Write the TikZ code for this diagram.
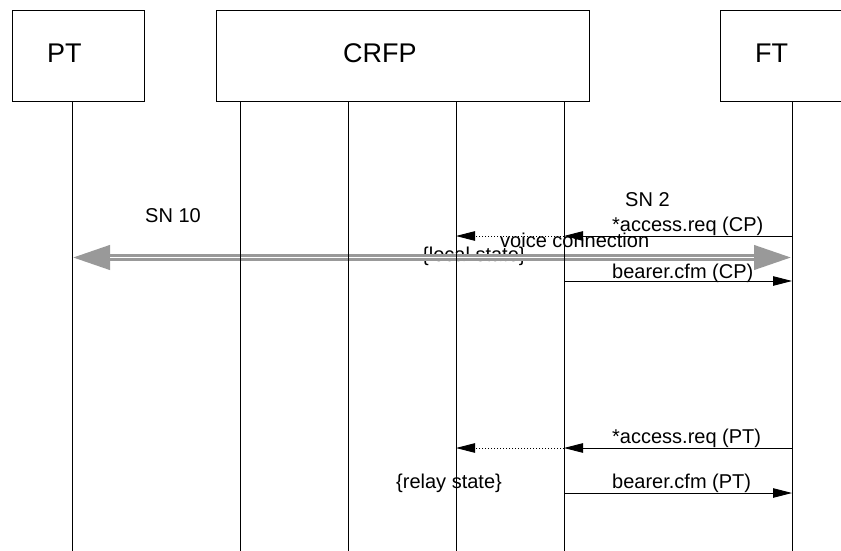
\documentclass[tikz,border=0pt]{standalone}
\usepackage{fontspec}
\setmainfont{Liberation Sans}
\usetikzlibrary{arrows.meta}
\definecolor{bandgray}{RGB}{153,153,153}
\tikzset{
  bandtip/.tip={Triangle[length=38pt,width=23pt]},
  msgtip/.tip={Triangle[length=19pt,width=9.5pt]}
}
\begin{document}
\begin{tikzpicture}[x=1pt,y=-1pt,
  entity/.style={draw, line width=0.9pt, inner sep=0pt, anchor=north west},
  headtext/.style={font=\fontsize{27}{30}\selectfont, anchor=base west, inner sep=0pt},
  msgtext/.style={font=\fontsize{20}{24}\selectfont, anchor=base west, inner sep=0pt},
  lifeline/.style={line width=0.9pt},
  msg/.style={line width=0.9pt, -msgtip},
  relay/.style={msg, dash pattern=on 1pt off 2pt},
  band/.style={draw=bandgray, line width=7pt, bandtip-bandtip},
  bandgap/.style={draw=white, line width=1pt, shorten <=38pt, shorten >=38pt}]

\useasboundingbox (0,0) rectangle (841,551);
\clip (0,0) rectangle (841,551);

% entity boxes
\node[entity, minimum width=132pt, minimum height=91pt] (pt)   at (12,10)  {};
\node[entity, minimum width=373pt, minimum height=91pt] (crfp) at (216,10) {};
\node[entity, minimum width=132pt, minimum height=91pt] (ft)   at (720,10) {};
\node[headtext] (ptlabel)   at (47,63)  {PT};
\node[headtext] (crfplabel) at (343,63) {CRFP};
\node[headtext] (ftlabel)   at (755,63) {FT};

% lifeline end points
\coordinate (lpt) at (72,101);
\coordinate (l1)  at (240,101);
\coordinate (l2)  at (348,101);
\coordinate (l3)  at (456,101);
\coordinate (l4)  at (564,101);
\coordinate (lft) at (792,101);
\coordinate (bottom) at (0,551);

% message rows
\coordinate (r1) at (0,236);
\coordinate (r2) at (0,257.5);
\coordinate (r3) at (0,281);
\coordinate (r4) at (0,448);
\coordinate (r5) at (0,493);

% labels
\node[msgtext] (sn10)  at (145,222)   {SN 10};
\node[msgtext] (sn2)   at (625,206.5) {SN 2};
\node[msgtext] (m1)    at (612,231.5) {*access.req (CP)};
\node[msgtext] (local) at (422,261.5) {\{local state\}};
\node[msgtext] (m3)    at (612,278)   {bearer.cfm (CP)};
\node[msgtext] (m4)    at (612,443.5) {*access.req (PT)};
\node[msgtext] (relay) at (396,488)   {\{relay state\}};
\node[msgtext] (m5)    at (612,488.5) {bearer.cfm (PT)};

% voice connection band between PT and FT: three grey stripes
\draw[band] (lpt |- r2) -- (lft |- r2);
\draw[bandgap, yshift=-1.25pt] (lpt |- r2) -- (lft |- r2);
\draw[bandgap, yshift=1.25pt]  (lpt |- r2) -- (lft |- r2);

% lifelines
\foreach \l in {lpt,l1,l2,l3,l4,lft}
  \draw[lifeline] (\l) -- (\l |- bottom);

% messages
\draw[msg]   (lft |- r1) -- (l4 |- r1);
\draw[relay] (l4 |- r1)  -- (l3 |- r1);
\node[msgtext] (voice) at (500,247) {voice connection};
\draw[msg]   (l4 |- r3)  -- (lft |- r3);
\draw[msg]   (lft |- r4) -- (l4 |- r4);
\draw[relay] (l4 |- r4)  -- (l3 |- r4);
\draw[msg]   (l4 |- r5)  -- (lft |- r5);
\end{tikzpicture}
\end{document}
